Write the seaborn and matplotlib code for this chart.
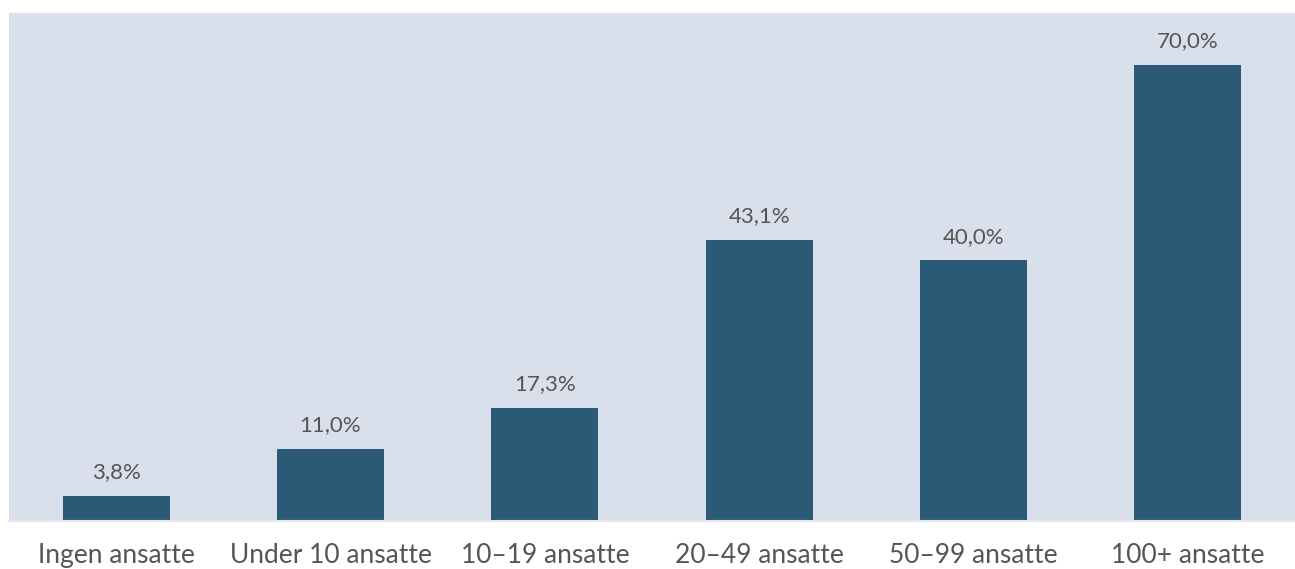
import matplotlib
matplotlib.use("Agg")
import matplotlib.pyplot as plt
import seaborn as sns
import pandas as pd

# Data
categories = ["Ingen ansatte", "Under 10 ansatte", "10–19 ansatte",
              "20–49 ansatte", "50–99 ansatte", "100+ ansatte"]
values = [3.8, 11.0, 17.3, 43.1, 40.0, 70.0]

BAR_COLOR = "#2b5a76"
BG_COLOR = "#d9dfeb"
TEXT_COLOR = "#555555"

df = pd.DataFrame({"kategori": categories, "andel": values})

sns.set_theme(style="white")
plt.rcParams["font.family"] = ["Lato", "DejaVu Sans"]

fig = plt.figure(figsize=(12.95, 5.69), dpi=100)
ax = fig.add_axes([9 / 1295, 48 / 569, 1286 / 1295, 508 / 569])

sns.barplot(data=df, x="kategori", y="andel", color=BAR_COLOR,
            width=0.5, saturation=1, linewidth=0, ax=ax)

ax.set_facecolor(BG_COLOR)
ax.set_xlim(-0.5, 5.5)
ax.set_ylim(0, 78)

# Value labels above bars
labels = [f"{v:.1f}%".replace(".", ",") for v in values]
ax.bar_label(ax.containers[0], labels=labels, padding=10,
             fontsize=16, color=TEXT_COLOR)

ax.set_xlabel("")
ax.set_ylabel("")
ax.set_yticks([])
ax.tick_params(axis="x", length=0, pad=16, labelsize=19,
               labelcolor=TEXT_COLOR)

for side in ["top", "left", "right"]:
    ax.spines[side].set_visible(False)
ax.spines["bottom"].set_color("#e6e6e6")
ax.spines["bottom"].set_linewidth(1.5)

fig.savefig("out.png", dpi=100)
